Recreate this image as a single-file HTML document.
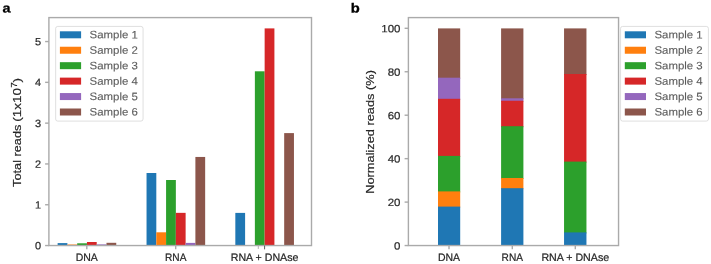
<!DOCTYPE html>
<html lang="en">
<head>
<meta charset="utf-8">
<title>Total and normalized reads per sample</title>
<style>
html,body{margin:0;padding:0;background:#ffffff;}
body{width:711px;height:264px;overflow:hidden;font-family:"Liberation Sans",sans-serif;}
svg{display:block;will-change:transform;}
text{font-family:"Liberation Sans",sans-serif;}
.tk{font-size:10.5px;fill:#262626;stroke:#262626;stroke-width:0.18px;}
.xt{font-size:10.8px;fill:#262626;stroke:#262626;stroke-width:0.22px;}
.lg{font-size:10.8px;fill:#5c5c5c;stroke:#5c5c5c;stroke-width:0.12px;}
.yl{font-size:11.8px;fill:#262626;stroke:#262626;stroke-width:0.18px;}
.tt{font-size:13.1px;font-weight:bold;fill:#000000;stroke:#000000;stroke-width:0.3px;}
</style>
</head>
<body>
<svg width="711" height="264" viewBox="0 0 711 264">
<rect x="0" y="0" width="711" height="264" fill="#ffffff"/>

<rect x="57.63" y="243.10" width="9.77" height="2.45" fill="#1f77b4"/>
<rect x="67.40" y="244.50" width="9.77" height="1.05" fill="#ff7f0e"/>
<rect x="77.17" y="243.30" width="9.77" height="2.25" fill="#2ca02c"/>
<rect x="86.94" y="242.00" width="9.77" height="3.55" fill="#d62728"/>
<rect x="96.71" y="244.40" width="9.77" height="1.15" fill="#9467bd"/>
<rect x="106.48" y="242.80" width="9.77" height="2.75" fill="#8c564b"/>
<rect x="146.54" y="173.00" width="9.77" height="72.55" fill="#1f77b4"/>
<rect x="156.31" y="232.30" width="9.77" height="13.25" fill="#ff7f0e"/>
<rect x="166.08" y="180.00" width="9.77" height="65.55" fill="#2ca02c"/>
<rect x="175.85" y="212.85" width="9.77" height="32.70" fill="#d62728"/>
<rect x="185.62" y="242.90" width="9.77" height="2.65" fill="#9467bd"/>
<rect x="195.39" y="156.95" width="9.77" height="88.60" fill="#8c564b"/>
<rect x="235.33" y="212.90" width="9.77" height="32.65" fill="#1f77b4"/>
<rect x="254.87" y="71.30" width="9.77" height="174.25" fill="#2ca02c"/>
<rect x="264.64" y="28.40" width="9.77" height="217.15" fill="#d62728"/>
<rect x="284.18" y="133.10" width="9.77" height="112.45" fill="#8c564b"/>
<rect x="48.9" y="17.6" width="262.60" height="227.95" fill="none" stroke="#aaaaaa" stroke-width="1.4"/>
<line x1="45.10" y1="245.55" x2="48.90" y2="245.55" stroke="#aaaaaa" stroke-width="1.4"/>
<text class="tk" x="34.90" y="249.30" transform="rotate(0.05 34.90 249.30)" textLength="6.10" lengthAdjust="spacingAndGlyphs">0</text>
<line x1="45.10" y1="204.75" x2="48.90" y2="204.75" stroke="#aaaaaa" stroke-width="1.4"/>
<text class="tk" x="34.90" y="208.50" transform="rotate(0.05 34.90 208.50)" textLength="6.10" lengthAdjust="spacingAndGlyphs">1</text>
<line x1="45.10" y1="163.95" x2="48.90" y2="163.95" stroke="#aaaaaa" stroke-width="1.4"/>
<text class="tk" x="34.90" y="167.70" transform="rotate(0.05 34.90 167.70)" textLength="6.10" lengthAdjust="spacingAndGlyphs">2</text>
<line x1="45.10" y1="123.15" x2="48.90" y2="123.15" stroke="#aaaaaa" stroke-width="1.4"/>
<text class="tk" x="34.90" y="126.90" transform="rotate(0.05 34.90 126.90)" textLength="6.10" lengthAdjust="spacingAndGlyphs">3</text>
<line x1="45.10" y1="82.35" x2="48.90" y2="82.35" stroke="#aaaaaa" stroke-width="1.4"/>
<text class="tk" x="34.90" y="86.10" transform="rotate(0.05 34.90 86.10)" textLength="6.10" lengthAdjust="spacingAndGlyphs">4</text>
<line x1="45.10" y1="41.55" x2="48.90" y2="41.55" stroke="#aaaaaa" stroke-width="1.4"/>
<text class="tk" x="34.90" y="45.30" transform="rotate(0.05 34.90 45.30)" textLength="6.10" lengthAdjust="spacingAndGlyphs">5</text>
<line x1="86.8" y1="245.55" x2="86.8" y2="249.35" stroke="#aaaaaa" stroke-width="1.4"/>
<text class="xt" x="75.75" y="260.90" transform="rotate(0.05 75.75 260.90)" textLength="22.10" lengthAdjust="spacingAndGlyphs">DNA</text>
<line x1="175.7" y1="245.55" x2="175.7" y2="249.35" stroke="#aaaaaa" stroke-width="1.4"/>
<text class="xt" x="165.00" y="260.90" transform="rotate(0.05 165.00 260.90)" textLength="21.40" lengthAdjust="spacingAndGlyphs">RNA</text>
<line x1="264.6" y1="245.55" x2="264.6" y2="249.35" stroke="#5e5e5e" stroke-width="1.0"/>
<text class="xt" x="230.75" y="260.90" transform="rotate(0.05 230.75 260.90)" textLength="67.70" lengthAdjust="spacingAndGlyphs">RNA + DNAse</text>
<line x1="258.3" y1="245.55" x2="258.3" y2="248.95" stroke="#b4b4b4" stroke-width="1.0"/>
<text class="yl" transform="translate(21.0,186.9) rotate(-90)" textLength="62.3" lengthAdjust="spacingAndGlyphs">Total reads</text>
<text class="yl" transform="translate(21.0,121.7) rotate(-90)" textLength="43.8" lengthAdjust="spacingAndGlyphs">(1x10<tspan font-size="8.5px" dy="-4.2">7</tspan><tspan dy="4.2">)</tspan></text>
<text class="tt" x="2.60" y="12.60" transform="rotate(0.05 2.60 12.60)" textLength="8.00" lengthAdjust="spacingAndGlyphs">a</text>
<rect x="55.65" y="26.4" width="87.40" height="94.7" rx="2.1" ry="2.1" fill="#ffffff" fill-opacity="0.8" stroke="#cccccc" stroke-opacity="0.7" stroke-width="0.9"/>
<rect x="59.90" y="31.30" width="21.2" height="7.0" fill="#1f77b4"/>
<text class="lg" x="89.60" y="38.35" transform="rotate(0.05 89.60 38.35)" textLength="48.20" lengthAdjust="spacingAndGlyphs">Sample 1</text>
<rect x="59.90" y="46.74" width="21.2" height="7.0" fill="#ff7f0e"/>
<text class="lg" x="89.60" y="53.79" transform="rotate(0.05 89.60 53.79)" textLength="48.20" lengthAdjust="spacingAndGlyphs">Sample 2</text>
<rect x="59.90" y="62.18" width="21.2" height="7.0" fill="#2ca02c"/>
<text class="lg" x="89.60" y="69.23" transform="rotate(0.05 89.60 69.23)" textLength="48.20" lengthAdjust="spacingAndGlyphs">Sample 3</text>
<rect x="59.90" y="77.62" width="21.2" height="7.0" fill="#d62728"/>
<text class="lg" x="89.60" y="84.67" transform="rotate(0.05 89.60 84.67)" textLength="48.20" lengthAdjust="spacingAndGlyphs">Sample 4</text>
<rect x="59.90" y="93.06" width="21.2" height="7.0" fill="#9467bd"/>
<text class="lg" x="89.60" y="100.11" transform="rotate(0.05 89.60 100.11)" textLength="48.20" lengthAdjust="spacingAndGlyphs">Sample 5</text>
<rect x="59.90" y="108.50" width="21.2" height="7.0" fill="#8c564b"/>
<text class="lg" x="89.60" y="115.55" transform="rotate(0.05 89.60 115.55)" textLength="48.20" lengthAdjust="spacingAndGlyphs">Sample 6</text>
<rect x="438.00" y="28.40" width="22.20" height="50.30" fill="#8c564b"/>
<rect x="438.00" y="77.70" width="22.20" height="22.10" fill="#9467bd"/>
<rect x="438.00" y="98.80" width="22.20" height="58.10" fill="#d62728"/>
<rect x="438.00" y="155.90" width="22.20" height="36.50" fill="#2ca02c"/>
<rect x="438.00" y="191.40" width="22.20" height="16.20" fill="#ff7f0e"/>
<rect x="438.00" y="206.60" width="22.20" height="38.95" fill="#1f77b4"/>
<rect x="501.10" y="28.40" width="22.30" height="70.90" fill="#8c564b"/>
<rect x="501.10" y="98.30" width="22.30" height="3.45" fill="#9467bd"/>
<rect x="501.10" y="100.75" width="22.30" height="26.45" fill="#d62728"/>
<rect x="501.10" y="126.20" width="22.30" height="52.80" fill="#2ca02c"/>
<rect x="501.10" y="178.00" width="22.30" height="11.20" fill="#ff7f0e"/>
<rect x="501.10" y="188.20" width="22.30" height="57.35" fill="#1f77b4"/>
<rect x="564.05" y="28.40" width="22.40" height="46.60" fill="#8c564b"/>
<rect x="564.05" y="74.00" width="22.40" height="88.60" fill="#d62728"/>
<rect x="564.05" y="161.60" width="22.40" height="71.80" fill="#2ca02c"/>
<rect x="564.05" y="232.40" width="22.40" height="13.15" fill="#1f77b4"/>
<rect x="408.4" y="17.6" width="210.15" height="227.95" fill="none" stroke="#aaaaaa" stroke-width="1.4"/>
<line x1="404.60" y1="245.55" x2="408.40" y2="245.55" stroke="#aaaaaa" stroke-width="1.4"/>
<text class="tk" x="394.10" y="249.50" transform="rotate(0.05 394.10 249.50)" textLength="6.40" lengthAdjust="spacingAndGlyphs">0</text>
<line x1="404.60" y1="202.10" x2="408.40" y2="202.10" stroke="#aaaaaa" stroke-width="1.4"/>
<text class="tk" x="387.70" y="206.05" transform="rotate(0.05 387.70 206.05)" textLength="12.80" lengthAdjust="spacingAndGlyphs">20</text>
<line x1="404.60" y1="158.65" x2="408.40" y2="158.65" stroke="#aaaaaa" stroke-width="1.4"/>
<text class="tk" x="387.70" y="162.60" transform="rotate(0.05 387.70 162.60)" textLength="12.80" lengthAdjust="spacingAndGlyphs">40</text>
<line x1="404.60" y1="115.20" x2="408.40" y2="115.20" stroke="#aaaaaa" stroke-width="1.4"/>
<text class="tk" x="387.70" y="119.15" transform="rotate(0.05 387.70 119.15)" textLength="12.80" lengthAdjust="spacingAndGlyphs">60</text>
<line x1="404.60" y1="71.75" x2="408.40" y2="71.75" stroke="#aaaaaa" stroke-width="1.4"/>
<text class="tk" x="387.70" y="75.70" transform="rotate(0.05 387.70 75.70)" textLength="12.80" lengthAdjust="spacingAndGlyphs">80</text>
<line x1="404.60" y1="28.30" x2="408.40" y2="28.30" stroke="#aaaaaa" stroke-width="1.4"/>
<text class="tk" x="381.30" y="32.25" transform="rotate(0.05 381.30 32.25)" textLength="19.20" lengthAdjust="spacingAndGlyphs">100</text>
<line x1="449.0" y1="245.55" x2="449.0" y2="249.35" stroke="#aaaaaa" stroke-width="1.4"/>
<text class="xt" x="437.95" y="260.90" transform="rotate(0.05 437.95 260.90)" textLength="22.10" lengthAdjust="spacingAndGlyphs">DNA</text>
<line x1="512.3" y1="245.55" x2="512.3" y2="249.35" stroke="#aaaaaa" stroke-width="1.4"/>
<text class="xt" x="501.60" y="260.90" transform="rotate(0.05 501.60 260.90)" textLength="21.40" lengthAdjust="spacingAndGlyphs">RNA</text>
<line x1="575.3" y1="245.55" x2="575.3" y2="249.35" stroke="#aaaaaa" stroke-width="1.4"/>
<text class="xt" x="541.45" y="260.90" transform="rotate(0.05 541.45 260.90)" textLength="67.70" lengthAdjust="spacingAndGlyphs">RNA + DNAse</text>
<text class="yl" transform="translate(374.1,193.75) rotate(-90)" textLength="123.7" lengthAdjust="spacingAndGlyphs">Normalized reads (%)</text>
<text class="tt" x="350.70" y="12.60" transform="rotate(0.05 350.70 12.60)" textLength="9.00" lengthAdjust="spacingAndGlyphs">b</text>
<rect x="620.55" y="26.4" width="87.85" height="94.7" rx="2.1" ry="2.1" fill="#ffffff" fill-opacity="0.8" stroke="#cccccc" stroke-opacity="0.7" stroke-width="0.9"/>
<rect x="624.80" y="31.30" width="21.2" height="7.0" fill="#1f77b4"/>
<text class="lg" x="654.50" y="38.35" transform="rotate(0.05 654.50 38.35)" textLength="48.20" lengthAdjust="spacingAndGlyphs">Sample 1</text>
<rect x="624.80" y="46.74" width="21.2" height="7.0" fill="#ff7f0e"/>
<text class="lg" x="654.50" y="53.79" transform="rotate(0.05 654.50 53.79)" textLength="48.20" lengthAdjust="spacingAndGlyphs">Sample 2</text>
<rect x="624.80" y="62.18" width="21.2" height="7.0" fill="#2ca02c"/>
<text class="lg" x="654.50" y="69.23" transform="rotate(0.05 654.50 69.23)" textLength="48.20" lengthAdjust="spacingAndGlyphs">Sample 3</text>
<rect x="624.80" y="77.62" width="21.2" height="7.0" fill="#d62728"/>
<text class="lg" x="654.50" y="84.67" transform="rotate(0.05 654.50 84.67)" textLength="48.20" lengthAdjust="spacingAndGlyphs">Sample 4</text>
<rect x="624.80" y="93.06" width="21.2" height="7.0" fill="#9467bd"/>
<text class="lg" x="654.50" y="100.11" transform="rotate(0.05 654.50 100.11)" textLength="48.20" lengthAdjust="spacingAndGlyphs">Sample 5</text>
<rect x="624.80" y="108.50" width="21.2" height="7.0" fill="#8c564b"/>
<text class="lg" x="654.50" y="115.55" transform="rotate(0.05 654.50 115.55)" textLength="48.20" lengthAdjust="spacingAndGlyphs">Sample 6</text>
</svg>
</body>
</html>
